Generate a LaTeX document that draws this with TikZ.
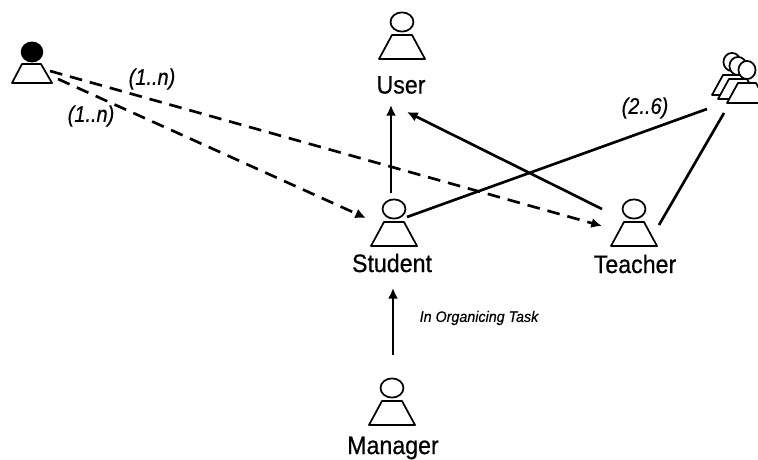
\documentclass[tikz,border=0pt]{standalone}
\usepackage{fontspec}
\setmainfont{Liberation Sans}
\newfontfamily\labfont[FakeBold=0.6,FakeStretch=0.92]{Liberation Sans}
\newfontfamily\multfont[FakeBold=0.5,FakeStretch=0.88,ItalicFeatures={FakeBold=0.5,FakeStretch=0.88}]{Liberation Sans}
\newfontfamily\notefont[FakeBold=0.3,FakeStretch=0.94,ItalicFeatures={FakeBold=0.3,FakeStretch=0.94}]{Liberation Sans}
\usetikzlibrary{arrows.meta,calc}
\tikzset{
  x=0.75pt,y=-0.75pt,
  actorline/.style={line width=1.3pt,line join=round},
  conn/.style={line width=2pt},
  arrowed/.style={conn,-{Latex[length=8pt,width=7.5pt]}},
  dashconn/.style={arrowed,dash pattern=on 9.5pt off 6pt},
  namelabel/.style={inner sep=0pt,font=\labfont\fontsize{18.9pt}{22pt}\selectfont},
  multlabel/.style={inner sep=0pt,font=\multfont\fontsize{17pt}{20pt}\itshape\selectfont},
  notelabel/.style={inner sep=0pt,font=\notefont\fontsize{11.4pt}{13pt}\itshape\selectfont},
}
\newcommand{\actorfig}[3]{% x, y of head centre, head fill
  \draw[actorline,fill=#3] (#1,#2) ellipse [x radius=8.6pt,y radius=7.2pt];
  \draw[actorline,fill=white] (#1-10,#2+13) -- (#1+10,#2+13) -- (#1+23,#2+37) -- (#1-23,#2+37) -- cycle;
}
\begin{document}
\begin{tikzpicture}
\useasboundingbox (0,0) rectangle (758,460);
% figures
\actorfig{402}{22}{white}
\actorfig{394}{209}{white}
\actorfig{634}{209}{white}
\actorfig{392}{388}{white}
% black actor
\draw[actorline,fill=black] (32,52) ellipse [x radius=7.8pt,y radius=7.2pt];
\draw[actorline] (22,64) -- (41,64) -- (52,83) -- (12,83) -- cycle;
% group
\begin{scope}
\clip (690,40) rectangle (758,120);
\foreach \hx/\hy in {732/62,738/66,747/70}{
  \draw[actorline,fill=white] (\hx-9,\hy+13) -- (\hx+9,\hy+13) -- (\hx+20,\hy+33) -- (\hx-20,\hy+33) -- cycle;
  \draw[actorline,fill=white] (\hx,\hy) ellipse [x radius=6.4pt,y radius=6.8pt];
}
\end{scope}
% anchors
\coordinate (userS) at (391,105);
\coordinate (userE) at (407,112);
\coordinate (stuTop) at (391,193);
\coordinate (stuR) at (407,217);
\coordinate (stuL) at (366,218);
\coordinate (stuB) at (393,288);
\coordinate (mgrT) at (393,355);
\coordinate (teaL) at (602,209);
\coordinate (teaIn) at (602,226);
\coordinate (teaR) at (659,225);
\coordinate (grpA) at (707,109);
\coordinate (grpB) at (724,113);
\coordinate (blkA) at (50,71);
\coordinate (blkB) at (58,79);
% labels
\node[namelabel] (lUser) at (401,85) {User};
\node[namelabel] (lStudent) at (392,263) {Student};
\node[namelabel] (lTeacher) at (635,264) {Teacher};
\node[namelabel] (lManager) at (393,448) {Manager};
\node[multlabel] (m1) at (152,79) {(1..n)};
\node[multlabel] (m2) at (91,116) {(1..n)};
\node[multlabel] (m3) at (645,108) {(2..6)};
\node[notelabel] (note) at (479,318) {In Organicing Task};
% connectors
\draw[arrowed] (stuTop) -- (userS);
\draw[arrowed] (teaL) -- (userE);
\draw[conn] (stuR) -- (grpA);
\draw[conn] (teaR) -- (grpB);
\draw[dashconn] (blkA) -- (teaIn);
\draw[dashconn] (blkB) -- (stuL);
\draw[arrowed] (mgrT) -- (stuB);
\end{tikzpicture}
\end{document}
